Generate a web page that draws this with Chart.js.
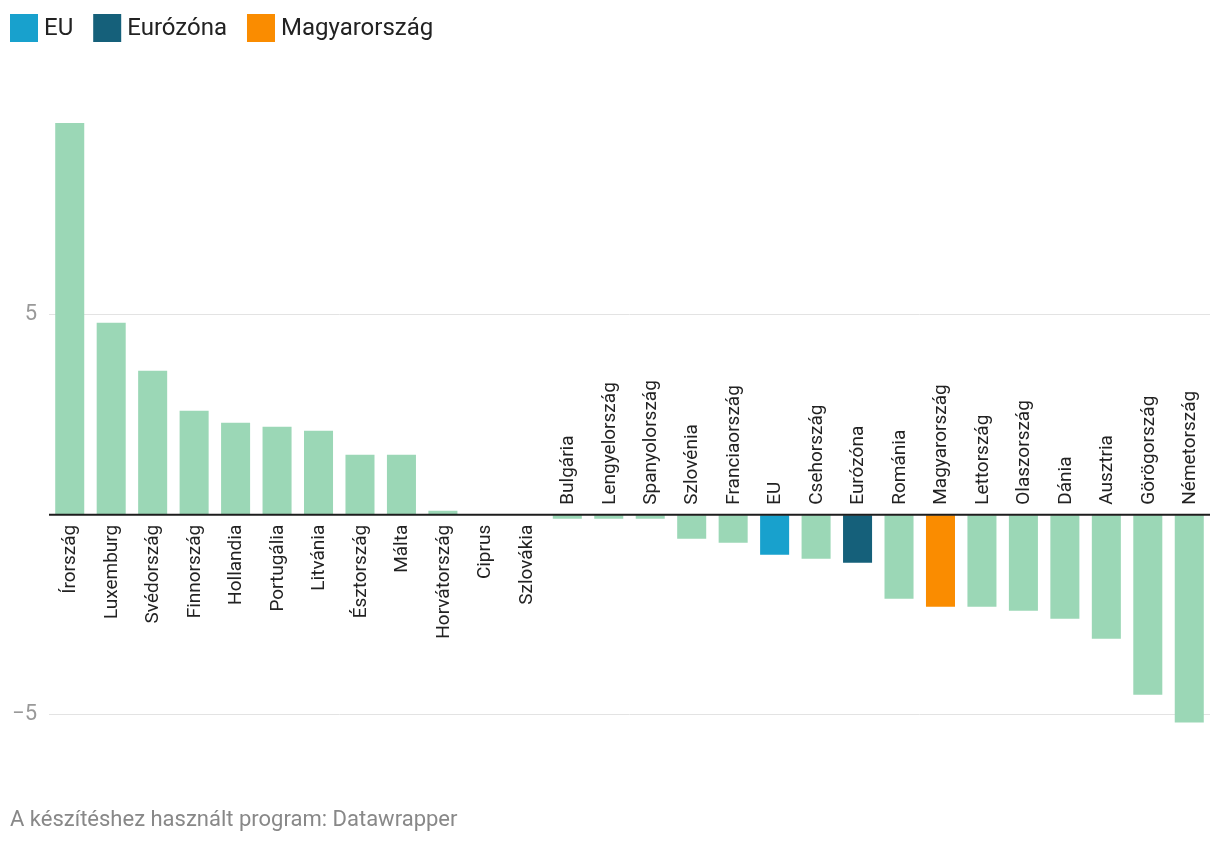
<!DOCTYPE html>
<html>
<head>
<meta charset="utf-8">
<script src="https://cdn.jsdelivr.net/npm/chart.js@4"></script>
<style>
  html, body { margin: 0; padding: 0; background: #fff; }
  #wrap { width: 1220px; height: 844px; position: relative; }
</style>
</head>
<body>
<div id="wrap"><canvas id="chart"></canvas></div>
<script>
// országok, csökkenő sorrendben
const countries = [
    'Írország', 'Luxemburg', 'Svédország', 'Finnország', 'Hollandia', 'Portugália',
    'Litvánia', 'Észtország', 'Málta', 'Horvátország', 'Ciprus', 'Szlovákia',
    'Bulgária', 'Lengyelország', 'Spanyolország', 'Szlovénia', 'Franciaország', 'EU',
    'Csehország', 'Eurózóna', 'Románia', 'Magyarország', 'Lettország', 'Olaszország',
    'Dánia', 'Ausztria', 'Görögország', 'Németország'
];
const values = [
    9.8, 4.8, 3.6, 2.6, 2.3, 2.2,
    2.1, 1.5, 1.5, 0.1, 0, 0,
    -0.1, -0.1, -0.1, -0.6, -0.7, -1.0,
    -1.1, -1.2, -2.1, -2.3, -2.3, -2.4,
    -2.6, -3.1, -4.5, -5.2
];
const yTicks = [-5, 0, 5];
const highlighted = ['EU', 'Eurózóna', 'Magyarország'];
const highlightColors = ['#18a1cd', '#15607a', '#fa8c00'];
const baseColor = '#9bd7b6';

const barColors = countries.map(c => {
    const i = highlighted.indexOf(c);
    return i >= 0 ? highlightColors[i] : baseColor;
});

// jelmagyarázat bal felül
const topLegend = {
    id: 'topLegend',
    afterDraw(chart) {
        const ctx = chart.ctx;
        ctx.save();
        ctx.font = '24px Roboto';
        ctx.textBaseline = 'middle';
        ctx.textAlign = 'left';
        let x = 10;
        highlighted.forEach((name, i) => {
            ctx.fillStyle = highlightColors[i];
            ctx.fillRect(x, 14, 28, 28);
            ctx.fillStyle = '#222';
            ctx.fillText(name, x + 34, 29);
            x += 34 + ctx.measureText(name).width + 20;
        });
        ctx.restore();
    }
};

// feliratok a nulla vonal mellett, függőlegesen
const barLabels = {
    id: 'barLabels',
    afterDatasetsDraw(chart) {
        const ctx = chart.ctx;
        const y = chart.scales.y;
        const x = chart.scales.x;
        const zero = y.getPixelForValue(0);
        const area = chart.chartArea;

        // nulla vonal a bárok fölött
        ctx.save();
        ctx.strokeStyle = '#1d1d1d';
        ctx.lineWidth = 2;
        ctx.beginPath();
        ctx.moveTo(area.left, zero);
        ctx.lineTo(area.right, zero);
        ctx.stroke();

        ctx.fillStyle = '#222';
        ctx.font = '19px Roboto';
        ctx.textBaseline = 'middle';
        countries.forEach((name, i) => {
            const cx = x.getPixelForValue(i);
            ctx.save();
            ctx.translate(cx, values[i] >= 0 ? zero + 10 : zero - 10);
            ctx.rotate(-Math.PI / 2);
            ctx.textAlign = values[i] >= 0 ? 'right' : 'left';
            ctx.fillText(name, 0, 1);
            ctx.restore();
        });
        ctx.restore();
    }
};

new Chart(document.getElementById('chart'), {
    type: 'bar',
    data: {
        labels: countries,
        datasets: [{
            data: values,
            backgroundColor: barColors,
            barPercentage: 0.7,
            categoryPercentage: 1.0
        }]
    },
    options: {
        responsive: true,
        maintainAspectRatio: false,
        animation: false,
        layout: { padding: { left: 10, right: 10, top: 115, bottom: 10 } },
        plugins: {
            tooltip: { enabled: false },
            legend: { display: false },
            title: {
                display: true,
                position: 'bottom',
                align: 'start',
                text: 'A készítéshez használt program: Datawrapper',
                color: '#888',
                font: { family: 'Roboto', size: 22, weight: 'normal' },
                padding: { top: 53, bottom: 0 }
            }
        },
        scales: {
            x: {
                display: false
            },
            y: {
                min: -6,
                max: 10,
                afterBuildTicks: scale => {
                    scale.ticks = yTicks.map(v => ({ value: v }));
                },
                afterFit: scale => { scale.width = 39; },
                border: { display: false },
                grid: {
                    drawTicks: false,
                    color: ctx => ctx.tick && ctx.tick.value === 0 ? 'rgba(0,0,0,0)' : '#e3e3e3',
                    lineWidth: 1
                },
                ticks: {
                    padding: 12,
                    color: '#999',
                    font: { family: 'Roboto', size: 22 },
                    callback: v => v === 0 ? '' : (v < 0 ? '\u2212' + Math.abs(v) : String(v))
                }
            }
        }
    },
    plugins: [barLabels, topLegend]
});
</script>
</body>
</html>
